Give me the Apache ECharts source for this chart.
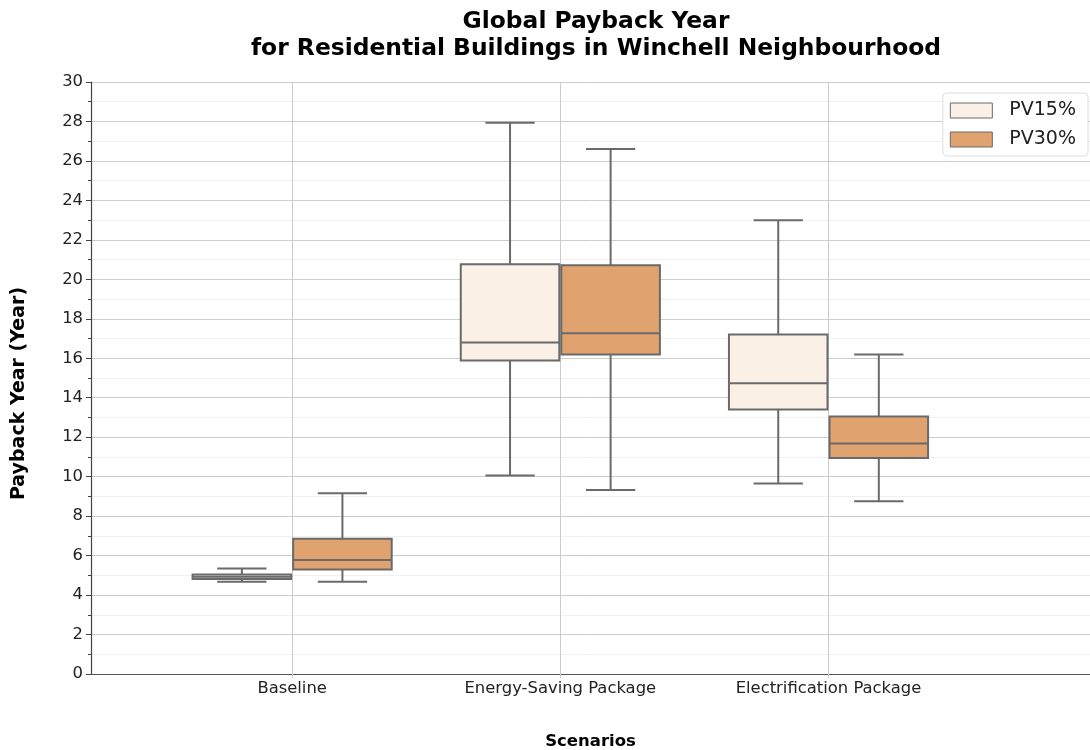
<!DOCTYPE html>
<html>
<head>
<meta charset="utf-8">
<title>Global Payback Year</title>
<script src="https://cdn.jsdelivr.net/npm/echarts@6/dist/echarts.min.js"></script>
<style>
  html, body { margin: 0; padding: 0; background: #ffffff; }
  #chart { width: 1090px; height: 750px; }
</style>
</head>
<body>
<div id="chart"></div>
<script>
// Scenarios on the x axis
const categories = ['Baseline', 'Energy-Saving Package', 'Electrification Package'];
// Hue groups
const groupNames = ['PV15%', 'PV30%'];
// Box statistics per scenario: [min, Q1, median, Q3, max] (years)
const pv15Stats = [
  [4.68, 4.82, 4.93, 5.04, 5.34],
  [10.06, 15.89, 16.80, 20.77, 27.94],
  [9.65, 13.40, 14.74, 17.21, 23.00]
];
const pv30Stats = [
  [4.68, 5.30, 5.78, 6.85, 9.16],
  [9.33, 16.19, 17.27, 20.72, 26.60],
  [8.75, 10.95, 11.68, 13.05, 16.19]
];
// Y axis ticks
const yMin = 0;
const yMax = 30;
const yStep = 2;
const categoryTicks = [0, 1, 2];

const FONT = 'DejaVu Sans';
const EDGE = '#6a6a6a';
const FILLS = ['#faf0e6', '#e0a36f'];
const BOX_WIDTH = 0.3675;   // in category units
const DODGE = 0.1875;       // offset of each hue from the category centre

function makeRenderer(offset, fill) {
  return function (params, api) {
    const cx = api.value(0) + offset;
    const p = [1, 2, 3, 4, 5].map(function (i) { return api.coord([cx, api.value(i)]); });
    const x = p[0][0];
    const yMinP = p[0][1], yQ1 = p[1][1], yMed = p[2][1], yQ3 = p[3][1], yMaxP = p[4][1];
    const halfW = api.size([BOX_WIDTH, 0])[0] / 2;
    const capHalf = halfW / 2;
    const ls = { stroke: EDGE, lineWidth: 2, fill: null };
    return {
      type: 'group',
      children: [
        { type: 'line', shape: { x1: x, y1: yQ3, x2: x, y2: yMaxP }, style: ls },
        { type: 'line', shape: { x1: x, y1: yQ1, x2: x, y2: yMinP }, style: ls },
        { type: 'line', shape: { x1: x - capHalf, y1: yMaxP, x2: x + capHalf, y2: yMaxP }, style: ls },
        { type: 'line', shape: { x1: x - capHalf, y1: yMinP, x2: x + capHalf, y2: yMinP }, style: ls },
        { type: 'rect', shape: { x: x - halfW, y: yQ3, width: halfW * 2, height: yQ1 - yQ3 },
          style: { fill: fill, stroke: EDGE, lineWidth: 2 } },
        { type: 'line', shape: { x1: x - halfW, y1: yMed, x2: x + halfW, y2: yMed }, style: ls }
      ]
    };
  };
}

function toRows(stats) {
  return stats.map(function (s, i) { return [i].concat(s); });
}

const chart = echarts.init(document.getElementById('chart'), null, { renderer: 'canvas' });

chart.setOption({
  animation: false,
  backgroundColor: '#ffffff',
  title: {
    text: 'Global Payback Year\nfor Residential Buildings in Winchell Neighbourhood',
    left: 591,
    textAlign: 'center',
    top: 3,
    textStyle: { fontFamily: FONT, fontSize: 23.4, fontWeight: 'bold', color: '#000000', lineHeight: 27 }
  },
  legend: {
    data: groupNames,
    orient: 'vertical',
    right: 2,
    top: 93,
    icon: 'rect',
    itemWidth: 42,
    itemHeight: 15,
    itemGap: 10,
    padding: [8, 12, 7, 7],
    backgroundColor: '#ffffff',
    borderColor: '#dddddd',
    borderWidth: 1,
    borderRadius: 4,
    itemStyle: { borderColor: EDGE, borderWidth: 1 },
    textStyle: { fontFamily: FONT, fontSize: 19, color: '#222222', padding: [0, 0, 0, 12] }
  },
  grid: { left: 91, right: 0, top: 82, bottom: 76, containLabel: false, outerBoundsMode: 'none' },
  xAxis: {
    type: 'value',
    min: -0.75,
    max: 2.975,
    name: 'Scenarios',
    nameLocation: 'middle',
    nameGap: 59,
    nameTextStyle: { fontFamily: FONT, fontSize: 16.5, fontWeight: 'bold', color: '#000000' },
    axisLine: { show: true, onZero: false, lineStyle: { color: '#555555', width: 1.2 } },
    axisTick: { show: true, customValues: categoryTicks, length: 4, lineStyle: { color: '#cccccc' } },
    axisLabel: {
      customValues: categoryTicks,
      margin: 7,
      fontFamily: FONT, fontSize: 16.4, color: '#222222',
      formatter: function (v) { return categories[Math.round(v)]; }
    },
    splitLine: { show: true, lineStyle: { color: '#cccccc', width: 1 } }
  },
  yAxis: {
    type: 'value',
    min: yMin,
    max: yMax,
    interval: yStep,
    name: 'Payback Year (Year)',
    nameLocation: 'middle',
    nameRotate: 90,
    nameGap: 62,
    nameTextStyle: {
      fontFamily: FONT, fontSize: 19, fontWeight: 'bold', color: '#000000',
      padding: [0, 31, 0, 0]
    },
    axisLine: { show: true, onZero: false, lineStyle: { color: '#444444', width: 1.2 } },
    axisTick: { show: true, inside: false, length: 5, lineStyle: { color: '#444444' } },
    minorTick: { show: true, splitNumber: 2, length: 3, lineStyle: { color: '#444444' } },
    axisLabel: { margin: 8, fontFamily: FONT, fontSize: 16.4, color: '#222222' },
    splitLine: { show: true, lineStyle: { color: '#cccccc', width: 1 } },
    minorSplitLine: { show: true, lineStyle: { color: '#f0f0f0', width: 1 } }
  },
  series: [
    {
      name: groupNames[0],
      type: 'custom',
      renderItem: makeRenderer(-DODGE, FILLS[0]),
      itemStyle: { color: FILLS[0], borderColor: EDGE, borderWidth: 1 },
      encode: { x: 0, y: [1, 2, 3, 4, 5] },
      data: toRows(pv15Stats),
      z: 3
    },
    {
      name: groupNames[1],
      type: 'custom',
      renderItem: makeRenderer(DODGE, FILLS[1]),
      itemStyle: { color: FILLS[1], borderColor: EDGE, borderWidth: 1 },
      encode: { x: 0, y: [1, 2, 3, 4, 5] },
      data: toRows(pv30Stats),
      z: 3
    }
  ]
});
</script>
</body>
</html>
